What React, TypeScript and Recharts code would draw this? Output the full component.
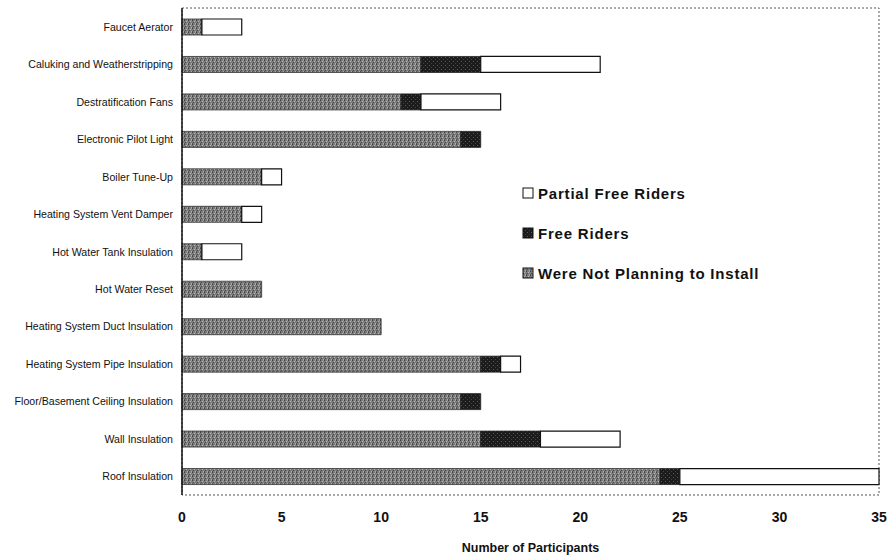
import React from "react";
import { BarChart, Bar, XAxis, YAxis, ReferenceArea } from "recharts";

const categories = [
  "Faucet Aerator",
  "Caluking and Weatherstripping",
  "Destratification Fans",
  "Electronic Pilot Light",
  "Boiler Tune-Up",
  "Heating System Vent Damper",
  "Hot Water Tank Insulation",
  "Hot Water Reset",
  "Heating System Duct Insulation",
  "Heating System Pipe Insulation",
  "Floor/Basement Ceiling Insulation",
  "Wall Insulation",
  "Roof Insulation",
];

const notPlanning = [1, 12, 11, 14, 4, 3, 1, 4, 10, 15, 14, 15, 24];
const freeRiders = [0, 3, 1, 1, 0, 0, 0, 0, 0, 1, 1, 3, 1];
const partialFreeRiders = [2, 6, 4, 0, 1, 1, 2, 0, 0, 1, 0, 4, 10];

const xTicks = [0, 5, 10, 15, 20, 25, 30, 35];

const legendItems = [
  { label: "Partial Free Riders", fill: "#ffffff" },
  { label: "Free Riders", fill: "url(#darkDots)" },
  { label: "Were Not Planning to Install", fill: "url(#grayDots)" },
];

const data = categories.map((name, i) => ({
  name,
  notPlanning: notPlanning[i],
  freeRiders: freeRiders[i],
  partial: partialFreeRiders[i],
}));

const FONT = "'Liberation Sans', Arial, Helvetica, sans-serif";

// category labels drawn on one line, right aligned against the axis
function CategoryTick(props: any) {
  const { x, y, payload } = props;
  return (
    <text
      x={x}
      y={y}
      dy={4}
      textAnchor="end"
      fontSize={10.6}
      fill="#111"
      fontFamily={FONT}
    >
      {payload.value}
    </text>
  );
}

function LegendBox() {
  return (
    <div
      style={{
        position: "absolute",
        left: 522,
        top: 173,
        fontFamily: FONT,
      }}
    >
      {legendItems.map((item) => (
        <div
          key={item.label}
          style={{
            display: "flex",
            alignItems: "center",
            height: 40,
            fontSize: 15,
            fontWeight: "bold",
            letterSpacing: 0.8,
            color: "#111",
          }}
        >
          <svg width={14} height={12} style={{ marginRight: 2 }}>
            <rect
              x={1}
              y={1}
              width={10}
              height={10}
              fill={item.fill}
              stroke="#111"
              strokeWidth={1}
            />
          </svg>
          {item.label}
        </div>
      ))}
    </div>
  );
}

export default function App() {
  return (
    <div
      style={{
        position: "absolute",
        left: 0,
        top: 0,
        width: 890,
        height: 556,
        background: "#fff",
      }}
    >
      {/* pattern defs shared by bars and legend swatches */}
      <svg width={0} height={0} style={{ position: "absolute" }}>
        <defs>
          <pattern id="grayDots" width={4} height={4} patternUnits="userSpaceOnUse">
            <rect width={4} height={4} fill="#7c7c7c" />
            <rect x={0} y={0} width={1} height={1} fill="#3e3e3e" />
            <rect x={2} y={1} width={1} height={1} fill="#b8b8b8" />
            <rect x={1} y={2} width={1} height={1} fill="#4a4a4a" />
            <rect x={3} y={3} width={1} height={1} fill="#acacac" />
            <rect x={3} y={0} width={1} height={1} fill="#9a9a9a" />
            <rect x={0} y={3} width={1} height={1} fill="#555" />
          </pattern>
          <pattern id="darkDots" width={4} height={4} patternUnits="userSpaceOnUse">
            <rect width={4} height={4} fill="#1c1c1c" />
            <rect x={1} y={1} width={1} height={1} fill="#5a5a5a" />
            <rect x={3} y={3} width={1} height={1} fill="#444" />
          </pattern>
        </defs>
      </svg>
      <BarChart
        width={890}
        height={556}
        data={data}
        layout="vertical"
        margin={{ top: 8, right: 11, bottom: 0, left: 0 }}
        barCategoryGap={0}
      >
        <ReferenceArea
          x1={0}
          x2={35}
          fill="none"
          stroke="#555"
          strokeDasharray="2 2"
          strokeWidth={1}
          ifOverflow="visible"
        />
        <XAxis
          type="number"
          domain={[0, 35]}
          ticks={xTicks}
          axisLine={false}
          tickLine={false}
          tickMargin={11}
          height={61}
          tick={{ fontSize: 14, fontWeight: "bold", fill: "#111", fontFamily: FONT }}
          label={{
            value: "Number of Participants",
            position: "insideBottom",
            offset: 4,
            style: { fontSize: 12.5, fontWeight: "bold", fill: "#111", fontFamily: FONT },
          }}
        />
        <YAxis
          type="category"
          dataKey="name"
          width={182}
          axisLine={{ stroke: "#111", strokeWidth: 1.5 }}
          tickLine={false}
          tickSize={0}
          tickMargin={9}
          interval={0}
          tick={<CategoryTick />}
        />
        <Bar
          dataKey="notPlanning"
          stackId="a"
          fill="url(#grayDots)"
          stroke="#333"
          strokeWidth={0.8}
          barSize={16}
          isAnimationActive={false}
        />
        <Bar
          dataKey="freeRiders"
          stackId="a"
          fill="url(#darkDots)"
          stroke="#222"
          strokeWidth={0.8}
          barSize={16}
          isAnimationActive={false}
        />
        <Bar
          dataKey="partial"
          stackId="a"
          fill="#ffffff"
          stroke="#111"
          strokeWidth={1.2}
          barSize={16}
          isAnimationActive={false}
        />
      </BarChart>
      <LegendBox />
    </div>
  );
}
